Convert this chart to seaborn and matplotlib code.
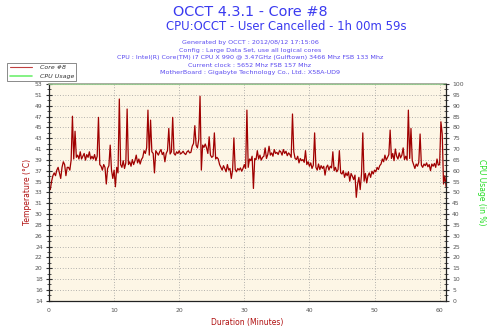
import numpy as np
import pandas as pd
import matplotlib
matplotlib.use("Agg")
import matplotlib.pyplot as plt
import seaborn as sns
from matplotlib.ticker import FixedLocator, MultipleLocator
from matplotlib.lines import Line2D

# ---------------- data ----------------
sample_step_min = 0.2  # one reading every 0.2 minutes
core8_temp = [
    34.5, 34.0, 35.5, 36.5, 37.0,
    36.5, 37.5, 38.0, 37.0, 36.0,
    38.0, 39.0, 38.5, 36.5, 38.0,
    38.0, 37.5, 39.3, 47.2, 39.5,
    44.5, 39.8, 40.2, 39.5, 40.8,
    39.5, 40.0, 40.5, 39.3, 40.3,
    39.8, 40.8, 39.5, 40.0, 39.5,
    40.3, 39.2, 40.0, 47.0, 38.5,
    38.2, 37.5, 38.5, 38.0, 35.0,
    37.8, 38.3, 42.0, 37.5, 36.0,
    37.5, 34.5, 38.0, 37.0, 50.3,
    38.5, 38.0, 39.2, 37.8, 38.8,
    48.5, 38.5, 39.0, 38.2, 39.4,
    38.5, 39.2, 40.2, 38.8, 39.5,
    38.6, 39.4, 39.8, 41.0, 40.5,
    41.5, 48.3, 40.2, 46.5, 40.8,
    40.5, 37.0, 41.0, 40.6, 40.2,
    40.8, 41.2, 40.3, 40.7, 39.0,
    40.5, 41.0, 45.0, 40.4, 40.8,
    47.0, 40.5, 40.2, 40.8, 40.5,
    41.0, 40.4, 40.6, 40.9, 40.5,
    40.3, 40.8, 41.0, 40.6, 40.7,
    41.8, 42.3, 45.5, 42.0, 41.5,
    43.0, 50.8, 37.5, 42.0, 41.6,
    42.2, 41.5, 40.5, 43.5, 40.2,
    39.8, 40.0, 44.2, 39.5, 39.8,
    39.5, 38.5, 38.0, 37.5, 38.3,
    37.8, 37.2, 38.5, 37.5, 37.8,
    36.0, 37.5, 43.3, 37.6, 37.2,
    37.8, 37.5, 37.9, 37.3, 37.8,
    38.5, 37.8, 48.3, 38.0, 39.5,
    39.2, 40.0, 34.2, 39.6, 39.4,
    41.0, 39.5, 40.2, 39.3, 39.8,
    40.0, 41.5, 39.6, 40.3, 41.8,
    40.2, 40.6, 40.0, 41.2, 40.5,
    40.7, 40.3, 41.0, 40.8, 40.2,
    41.2, 40.5, 40.9, 40.1, 40.6,
    40.3, 39.8, 47.6, 40.8, 39.6,
    39.4, 40.0, 38.8, 39.6, 39.2,
    39.4, 38.9, 41.0, 38.5, 39.0,
    38.2, 38.8, 37.8, 38.4, 44.2,
    38.0, 37.5, 38.6, 37.6, 38.3,
    37.8, 38.2, 36.6, 38.0, 38.4,
    37.5, 38.2, 37.9, 40.8, 37.4,
    38.0, 37.2, 37.6, 41.0, 37.0,
    36.8, 37.4, 36.2, 37.0, 36.5,
    37.2, 35.5, 36.9, 36.4, 35.8,
    36.6, 32.6, 35.0, 36.2, 34.0,
    36.8, 44.2, 35.5, 36.9, 35.2,
    36.5, 37.0, 36.2, 37.3, 36.8,
    37.5, 37.2, 38.0, 37.6, 38.3,
    38.6, 39.5, 39.0, 40.2, 39.3,
    39.8, 40.3, 44.7, 39.6, 40.5,
    39.2, 41.3, 40.0, 39.5, 40.6,
    39.7, 40.2, 41.5, 39.4, 40.0,
    39.3, 48.3, 39.6, 45.0, 39.2,
    38.5, 37.8, 38.6, 38.2, 38.9,
    44.0, 38.4, 38.0, 38.6, 38.3,
    38.8, 38.1, 38.5, 37.4, 38.6,
    38.2, 38.7, 38.0, 39.5, 38.4,
    38.5, 46.2, 44.0, 35.0, 36.5,
    34.5,
]
cpu_usage = [100.0] * len(core8_temp)

temp_tick_labels = ["14", "16", "18", "20", "22", "24", "26", "28", "30", "31",
                    "33", "35", "37", "39", "41", "43", "45", "47", "49", "51", "53"]
temp_range = (14.0, 53.0)
cpu_ticks = list(range(0, 101, 5))
minute_ticks = [0, 10, 20, 30, 40, 50, 60]
total_minutes = 60.98

title1 = "OCCT 4.3.1 - Core #8"
title2 = "CPU:OCCT - User Cancelled - 1h 00m 59s"
info_lines = [
    "Generated by OCCT : 2012/08/12 17:15:06",
    "Config : Large Data Set, use all logical cores",
    "CPU : Intel(R) Core(TM) i7 CPU X 990 @ 3.47GHz (Gulftown) 3466 Mhz FSB 133 Mhz",
    "Current clock : 5652 Mhz FSB 157 Mhz",
    "MotherBoard : Gigabyte Technology Co., Ltd.: X58A-UD9",
]

minutes = np.arange(len(core8_temp)) * sample_step_min
df = pd.DataFrame({"Duration": minutes, "Core #8": core8_temp, "CPU Usage": cpu_usage})

# ---------------- style ----------------
sns.set_theme(style="white")
plt.rcParams["font.family"] = ["DejaVu Sans"]

W, H = 500, 332
fig = plt.figure(figsize=(5.0, 3.32), dpi=100)
fig.patch.set_facecolor("white")

ax = fig.add_axes([49 / W, 1 - 300.7 / H, (446 - 49) / W, (300.7 - 84) / H])
ax.set_facecolor("#FDF6E6")

red = "#A00000"
green = "#7CFC7C"
tick_col = "#333333"

sns.lineplot(data=df, x="Duration", y="Core #8", ax=ax, color=red, linewidth=0.9,
             label="Core #8", legend=False)

ax.set_xlim(0, total_minutes)
ax.set_ylim(*temp_range)

n = len(temp_tick_labels)
ystep = (temp_range[1] - temp_range[0]) / (n - 1)
ypos = [temp_range[0] + i * ystep for i in range(n)]
ax.yaxis.set_major_locator(FixedLocator(ypos))
ax.set_yticklabels(temp_tick_labels)
ax.yaxis.set_minor_locator(FixedLocator([p + ystep / 2 for p in ypos[:-1]]))
ax.set_xticks(minute_ticks)
ax.xaxis.set_minor_locator(MultipleLocator(2))

ax.grid(True, which="major", color="#9a9a9a", linestyle=(0, (1, 2.2)), linewidth=0.6)
ax.tick_params(axis="both", which="major", direction="inout", length=5, width=0.8,
               colors=tick_col, labelsize=4.4, labelcolor="#555555", pad=2)
ax.tick_params(axis="both", which="minor", direction="inout", length=3, width=0.6,
               colors=tick_col)
ax.tick_params(axis="x", pad=3)

for side in ["left", "bottom"]:
    ax.spines[side].set_color("#222222")
    ax.spines[side].set_linewidth(0.9)
ax.spines["right"].set_visible(False)
ax.spines["top"].set_color("#9aa090")
ax.spines["top"].set_linewidth(1.2)

ax.set_xlabel("Duration (Minutes)", color="#B01010", fontsize=5.5, labelpad=3)
ax.set_ylabel("Temperature (°C)", color="#B01010", fontsize=5.5, labelpad=2)

ax2 = ax.twinx()
sns.lineplot(data=df, x="Duration", y="CPU Usage", ax=ax2, color=green, linewidth=0.8,
             alpha=0.35, label="CPU Usage", legend=False)
for ln in ax2.lines:
    ln.set_clip_on(False)
ax2.set_ylim(0, 100)
ax2.set_xlim(0, total_minutes)
ax2.set_yticks(cpu_ticks)
ax2.yaxis.set_minor_locator(MultipleLocator(2.5))
ax2.tick_params(axis="y", which="major", direction="inout", length=5, width=0.8,
                colors=tick_col, labelsize=4.4, labelcolor="#555555", pad=2)
ax2.tick_params(axis="y", which="minor", direction="inout", length=3, width=0.6,
                colors=tick_col)
for side in ["left", "bottom", "top"]:
    ax2.spines[side].set_visible(False)
ax2.spines["right"].set_color("#222222")
ax2.spines["right"].set_linewidth(0.9)
ax2.set_ylabel("CPU Usage (in %)", color="#22DD22", fontsize=5.5, rotation=-90,
               labelpad=16)

# titles
blue = "#3A3AF0"
fig.text(250 / W, 1 - 12 / H, title1, ha="center", va="center", color=blue, fontsize=10.4)
fig.text(286 / W, 1 - 27 / H, title2, ha="center", va="center", color=blue, fontsize=8.4)
for yy, line in zip([42.7, 50.2, 57.7, 65.2, 72.7], info_lines):
    fig.text(250 / W, 1 - yy / H, line, ha="center", va="center", color="#5A4AF0",
             fontsize=4.55)

# legend
handles = [Line2D([], [], color="#C04040", lw=0.8), Line2D([], [], color="#70F070", lw=1.2)]
leg = fig.legend(handles, ["Core #8", "CPU Usage"], loc="upper left",
                 bbox_to_anchor=(7 / W, 1 - 62.5 / H), prop={"size": 4.5, "style": "italic"},
                 frameon=True, fancybox=False, edgecolor="#777777", framealpha=1,
                 handlelength=3.6, borderpad=0.4, labelspacing=0.5, handletextpad=1.2,
                 borderaxespad=0)
leg.get_frame().set_linewidth(0.6)
for t in leg.get_texts():
    t.set_color("#333333")

fig.savefig("out.png", dpi=100, facecolor="white")
